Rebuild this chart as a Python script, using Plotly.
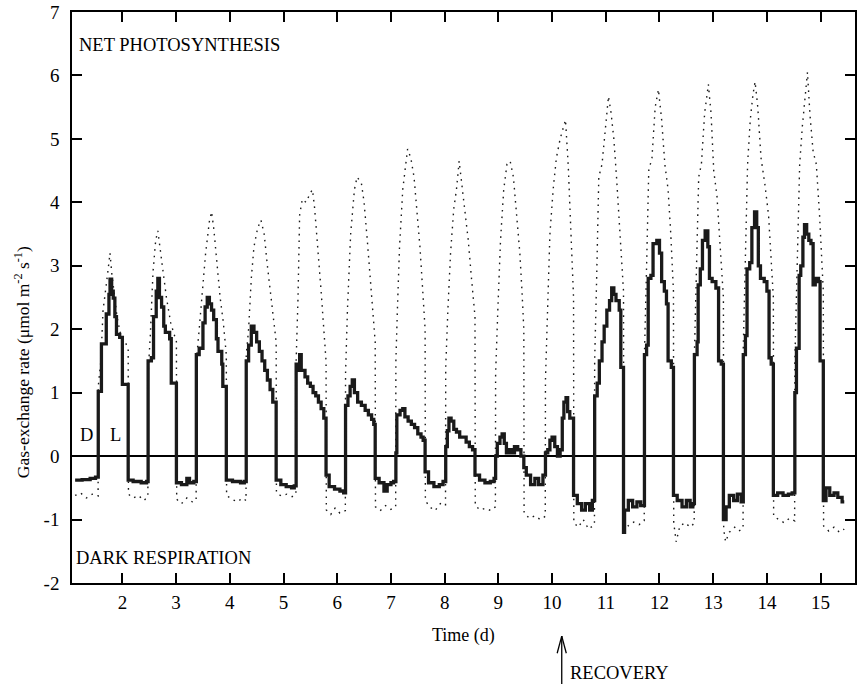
import plotly.graph_objects as go

# ---------------- data ----------------
# thick line: hourly-stepped gas-exchange rate (value holds until next time)
thick_time = [
    1.12, 1.25, 1.40, 1.50,
    1.551, 1.61, 1.70, 1.75, 1.77, 1.80, 1.83, 1.86, 1.89, 1.95, 2.00,
    2.108, 2.20, 2.35, 2.45,
    2.479, 2.54, 2.58, 2.63, 2.66, 2.69, 2.73, 2.77, 2.80, 2.88, 2.91,
    3.006, 3.10, 3.20, 3.25, 3.33,
    3.377, 3.43, 3.50, 3.54, 3.58, 3.62, 3.66, 3.70, 3.75, 3.78, 3.85, 3.87,
    3.935, 4.05, 4.20, 4.27,
    4.306, 4.35, 4.40, 4.45, 4.50, 4.55, 4.60, 4.65, 4.70, 4.75, 4.80,
    4.863, 4.95, 5.05, 5.15, 5.20,
    5.235, 5.27, 5.30, 5.33, 5.40, 5.45, 5.50, 5.55, 5.60, 5.65, 5.70, 5.75,
    5.792, 5.85, 5.95, 6.05, 6.12,
    6.155, 6.20, 6.24, 6.28, 6.32, 6.38, 6.45, 6.52, 6.58, 6.64, 6.68,
    6.707, 6.78, 6.87, 6.93, 7.00, 7.05,
    7.092, 7.11, 7.17, 7.22, 7.26, 7.32, 7.38, 7.44, 7.50, 7.56, 7.60,
    7.636, 7.70, 7.80, 7.90, 7.97,
    8.02, 8.05, 8.08, 8.12, 8.17, 8.22, 8.28, 8.34, 8.40, 8.46, 8.52,
    8.565, 8.65, 8.75, 8.85, 8.92,
    8.949, 8.98, 9.03, 9.07, 9.11, 9.15, 9.20, 9.25, 9.30, 9.36, 9.42,
    9.474, 9.52, 9.60, 9.68, 9.75, 9.83,
    9.877, 9.92, 9.96, 10.00, 10.05, 10.10, 10.15, 10.19, 10.22, 10.26, 10.29, 10.33,
    10.40, 10.47, 10.55, 10.62, 10.70, 10.75,
    10.793, 10.84, 10.88, 10.93, 10.97, 11.02, 11.07, 11.11, 11.15, 11.19, 11.25, 11.28,
    11.33, 11.35, 11.42, 11.50, 11.58, 11.65,
    11.72, 11.76, 11.79, 11.84, 11.88, 11.95, 12.00, 12.04, 12.09, 12.13, 12.16, 12.22,
    12.26, 12.33, 12.42, 12.50, 12.57, 12.62,
    12.65, 12.70, 12.72, 12.76, 12.80, 12.85, 12.90, 12.93, 12.98, 13.05, 13.10, 13.15,
    13.19, 13.24, 13.30, 13.38, 13.45, 13.52,
    13.56, 13.60, 13.63, 13.68, 13.72, 13.77, 13.81, 13.84, 13.88, 13.95, 14.00, 14.04, 14.08,
    14.12, 14.20, 14.30, 14.40, 14.47,
    14.52, 14.55, 14.60, 14.63, 14.67, 14.70, 14.74, 14.78, 14.82, 14.86, 14.90, 14.96, 14.99,
    15.05, 15.10, 15.17, 15.25, 15.32, 15.40, 15.44,
]
thick_rate = [
    -0.38, -0.37, -0.35, -0.33,
    1.02, 1.77, 2.24, 2.55, 2.79, 2.60, 2.49, 2.20, 1.92, 1.87, 1.13,
    -0.38, -0.40, -0.42, -0.40,
    1.50, 1.55, 2.20, 2.60, 2.80, 2.50, 2.35, 2.05, 1.95, 1.85, 1.15,
    -0.42, -0.45, -0.35, -0.42, -0.40,
    1.60, 1.70, 2.10, 2.35, 2.50, 2.40, 2.30, 2.15, 1.85, 1.65, 1.45, 1.10,
    -0.38, -0.40, -0.42, -0.40,
    1.50, 1.75, 2.05, 1.95, 1.80, 1.65, 1.50, 1.35, 1.20, 1.05, 0.85,
    -0.38, -0.45, -0.48, -0.50, -0.47,
    1.45, 1.35, 1.60, 1.35, 1.25, 1.15, 1.10, 1.00, 0.95, 0.85, 0.75, 0.60,
    -0.30, -0.48, -0.52, -0.55, -0.58,
    0.80, 0.95, 1.10, 1.20, 1.00, 0.85, 0.80, 0.72, 0.65, 0.58, 0.50,
    -0.35, -0.42, -0.55, -0.45, -0.42, -0.40,
    0.05, 0.65, 0.72, 0.75, 0.62, 0.55, 0.50, 0.45, 0.35, 0.30, 0.25,
    -0.25, -0.42, -0.48, -0.45, -0.40,
    0.15, 0.40, 0.60, 0.55, 0.42, 0.38, 0.30, 0.30, 0.22, 0.15, 0.10,
    -0.30, -0.38, -0.42, -0.40, -0.35,
    0.00, 0.20, 0.30, 0.35, 0.20, 0.05, 0.10, 0.05, 0.15, 0.10, 0.00,
    -0.18, -0.30, -0.45, -0.35, -0.45, -0.30,
    0.05, 0.10, 0.25, 0.30, 0.15, 0.00, 0.10, 0.60, 0.85, 0.92, 0.70, 0.60,
    -0.62, -0.75, -0.85, -0.75, -0.85, -0.70,
    0.95, 1.15, 1.50, 1.80, 2.05, 2.30, 2.45, 2.65, 2.55, 2.45, 2.30, 1.40,
    -1.20, -0.85, -0.70, -0.80, -0.72, -0.78,
    1.60, 1.75, 2.80, 2.85, 3.35, 3.40, 3.20, 2.75, 2.60, 2.40, 1.50, 1.40,
    -0.62, -0.70, -0.80, -0.70, -0.80, -0.75,
    1.60, 1.80, 2.70, 2.95, 3.40, 3.55, 3.30, 2.80, 2.75, 2.65, 1.50, 1.45,
    -1.00, -0.80, -0.62, -0.70, -0.60, -0.72,
    1.60, 1.90, 2.95, 3.05, 3.60, 3.85, 3.60, 3.00, 2.80, 2.75, 2.60, 1.55, 1.45,
    -0.62, -0.58, -0.62, -0.60, -0.58,
    1.00, 1.70, 2.85, 3.00, 3.45, 3.65, 3.50, 3.40, 3.35, 2.70, 2.80, 2.75, 1.50,
    -0.70, -0.50, -0.62, -0.58, -0.65, -0.72, -0.72,
]

# dotted line: the second gas-exchange record
dotted_time = [
    1.12, 1.22, 1.33, 1.44, 1.548,
    1.551, 1.60, 1.64, 1.70, 1.75, 1.77, 1.80, 1.85, 1.90, 1.97, 2.05, 2.108,
    2.113, 2.20, 2.30, 2.40, 2.475,
    2.479, 2.52, 2.57, 2.62, 2.66, 2.70, 2.76, 2.82, 2.90, 2.97, 3.006,
    3.011, 3.10, 3.20, 3.30, 3.373,
    3.377, 3.42, 3.47, 3.55, 3.62, 3.66, 3.70, 3.75, 3.82, 3.88, 3.935,
    3.940, 4.04, 4.14, 4.24, 4.302,
    4.306, 4.35, 4.40, 4.45, 4.52, 4.58, 4.64, 4.70, 4.77, 4.82, 4.863,
    4.868, 4.96, 5.06, 5.16, 5.231,
    5.235, 5.27, 5.30, 5.35, 5.42, 5.50, 5.54, 5.58, 5.63, 5.70, 5.75, 5.792,
    5.797, 5.88, 5.96, 6.05, 6.151,
    6.155, 6.19, 6.25, 6.32, 6.37, 6.45, 6.50, 6.56, 6.62, 6.67, 6.707,
    6.712, 6.80, 6.90, 7.00, 7.088,
    7.092, 7.12, 7.16, 7.22, 7.27, 7.31, 7.37, 7.43, 7.48, 7.54, 7.60, 7.636,
    7.641, 7.72, 7.82, 7.92, 8.016,
    8.02, 8.06, 8.11, 8.17, 8.22, 8.27, 8.32, 8.38, 8.44, 8.50, 8.565,
    8.570, 8.66, 8.76, 8.86, 8.945,
    8.949, 8.99, 9.04, 9.10, 9.16, 9.22, 9.28, 9.34, 9.40, 9.44, 9.474,
    9.479, 9.58, 9.68, 9.78, 9.873,
    9.877, 9.92, 9.96, 10.02, 10.08, 10.15, 10.22, 10.25, 10.30, 10.35, 10.40,
    10.405, 10.49, 10.58, 10.68, 10.789,
    10.793, 10.83, 10.87, 10.93, 10.99, 11.05, 11.10, 11.15, 11.20, 11.26, 11.33,
    11.335, 11.42, 11.52, 11.62, 11.716,
    11.72, 11.76, 11.80, 11.86, 11.92, 11.98, 12.04, 12.10, 12.16, 12.21, 12.26,
    12.265, 12.31, 12.38, 12.48, 12.57, 12.646,
    12.65, 12.69, 12.73, 12.78, 12.84, 12.91, 12.96, 13.01, 13.07, 13.13, 13.19,
    13.195, 13.23, 13.30, 13.40, 13.48, 13.556,
    13.56, 13.60, 13.64, 13.69, 13.74, 13.78, 13.83, 13.89, 13.96, 14.03, 14.08, 14.12,
    14.125, 14.22, 14.32, 14.42, 14.516,
    14.52, 14.56, 14.61, 14.66, 14.71, 14.755, 14.80, 14.86, 14.92, 14.98, 15.05,
    15.055, 15.15, 15.25, 15.35, 15.44,
]
dotted_rate = [
    -0.62, -0.58, -0.66, -0.60, -0.63,
    1.10, 1.50, 2.30, 2.70, 3.10, 3.20, 2.90, 2.50, 2.20, 1.90, 1.80, 1.70,
    -0.60, -0.66, -0.62, -0.70, -0.64,
    1.30, 1.90, 2.90, 3.40, 3.55, 3.30, 2.90, 2.50, 2.10, 1.90, 1.80,
    -0.68, -0.75, -0.66, -0.72, -0.70,
    1.50, 1.90, 2.40, 3.20, 3.70, 3.85, 3.60, 3.10, 2.50, 2.10, 1.60,
    -0.62, -0.68, -0.72, -0.66, -0.70,
    1.60, 2.00, 2.80, 3.30, 3.60, 3.72, 3.50, 3.00, 2.50, 2.10, 1.80,
    -0.58, -0.63, -0.60, -0.64, -0.60,
    1.50, 2.50, 3.80, 4.05, 4.00, 4.15, 4.20, 3.90, 3.40, 2.60, 2.00, 1.50,
    -0.85, -0.92, -0.82, -0.90, -0.86,
    1.30, 2.30, 3.50, 4.20, 4.40, 4.30, 4.00, 3.40, 2.70, 2.20, 1.80,
    -0.80, -0.86, -0.78, -0.84, -0.80,
    1.50, 2.30, 3.30, 4.20, 4.60, 4.84, 4.70, 4.40, 3.90, 3.30, 2.50, 2.00,
    -0.70, -0.80, -0.86, -0.75, -0.78,
    1.40, 2.30, 3.20, 3.90, 4.20, 4.65, 4.30, 3.90, 3.40, 2.80, 2.20,
    -0.78, -0.85, -0.82, -0.86, -0.80,
    1.30, 2.30, 3.40, 4.20, 4.60, 4.65, 4.40, 3.80, 3.20, 2.60, 2.00,
    -0.90, -0.98, -0.94, -1.00, -0.95,
    1.20, 2.40, 3.50, 4.20, 4.70, 5.00, 5.20, 5.30, 4.60, 3.50, 2.50,
    -1.05, -1.12, -1.00, -1.15, -1.08,
    1.50, 2.80, 4.40, 4.60, 5.10, 5.67, 5.40, 5.00, 4.40, 3.60, 2.60,
    -1.00, -1.10, -1.04, -1.08, -1.02,
    1.60, 3.00, 4.50, 4.70, 5.50, 5.78, 5.30, 4.60, 4.20, 3.50, 2.60,
    -1.05, -1.35, -1.10, -1.05, -1.12, -1.06,
    1.60, 3.00, 4.40, 4.60, 5.40, 5.86, 5.40, 4.50, 4.10, 3.30, 2.50,
    -1.15, -1.35, -1.20, -1.12, -1.18, -1.14,
    1.70, 3.20, 4.60, 5.30, 5.70, 5.90, 5.50, 4.70, 4.30, 3.80, 3.00, 2.50,
    -0.95, -1.00, -1.05, -0.98, -1.02,
    1.50, 3.00, 4.60, 5.20, 5.70, 6.05, 5.40, 4.80, 4.60, 3.80, 2.60,
    -1.10, -1.18, -1.12, -1.20, -1.15,
]

x_tick_vals = [2, 3, 4, 5, 6, 7, 8, 9, 10, 11, 12, 13, 14, 15]
y_tick_vals = [-2, -1, 0, 1, 2, 3, 4, 5, 6, 7]
y_tick_text = ["-2", "-1", "0", "1", "2", "3", "4", "5", "6", "7"]
recovery_day = 10.18
label_dark_day, label_light_day, label_dl_rate = 1.33, 1.88, 0.34

# ---------------- figure ----------------
FONT = "Liberation Serif, Times New Roman, serif"
INK = "#1a1a1a"

fig = go.Figure()
fig.add_trace(go.Scatter(
    x=dotted_time, y=dotted_rate, mode="lines",
    line=dict(color="#1a1a1a", width=1.4, dash="1.6px,5px"),
    hoverinfo="skip", showlegend=False))
fig.add_trace(go.Scatter(
    x=thick_time, y=thick_rate, mode="lines",
    line=dict(color=INK, width=3.3, shape="hv"),
    hoverinfo="skip", showlegend=False))

axis_common = dict(
    showline=True, linecolor="black", linewidth=1.5, mirror="allticks",
    ticks="inside", ticklen=10, tickwidth=1.5, tickcolor="black",
    showgrid=False, tickfont=dict(family=FONT, size=19, color="black"),
)
fig.update_xaxes(range=[1.062, 15.64], tickvals=x_tick_vals,
                 zeroline=False, ticklabelstandoff=1, **axis_common)
fig.update_yaxes(range=[-2, 7], tickvals=y_tick_vals, ticktext=y_tick_text,
                 zeroline=True, zerolinecolor="black", zerolinewidth=1.5,
                 ticklabelstandoff=7, **axis_common)

ann_font = dict(family=FONT, size=18.5, color="black")
annotations = [
    dict(text="NET PHOTOSYNTHESIS", xref="paper", yref="paper", x=0.0064, y=0.942,
         xanchor="left", yanchor="middle", showarrow=False, font=ann_font),
    dict(text="DARK RESPIRATION", xref="paper", yref="paper", x=0.0025, y=0.0438,
         xanchor="left", yanchor="middle", showarrow=False, font=ann_font),
    dict(text="D", xref="x", yref="y", x=label_dark_day, y=label_dl_rate,
         showarrow=False, font=ann_font),
    dict(text="L", xref="x", yref="y", x=label_light_day, y=label_dl_rate,
         showarrow=False, font=ann_font),
    dict(text="Time (d)", xref="paper", yref="paper", x=0.5, y=-0.0928,
         xanchor="center", yanchor="middle", showarrow=False,
         font=dict(family=FONT, size=18, color="black")),
    dict(text="Gas-exchange rate (μmol m<sup>-2</sup> s<sup>-1</sup>)",
         xref="paper", yref="paper", x=-0.0637, y=0.387, textangle=-90,
         xanchor="center", yanchor="middle", showarrow=False,
         font=dict(family=FONT, size=17.5, color="black")),
    dict(text="RECOVERY", xref="x", yref="paper", x=recovery_day + 0.11, y=-0.158,
         xanchor="left", yanchor="middle", showarrow=False, font=ann_font),
]
fig.update_layout(annotations=annotations)

# recovery arrow (open head)
tip_y, tail_y, wing_dy, wing_dx = -0.093, -0.19, 0.030, 0.085
arrow_line = dict(color="black", width=1.3)
fig.add_shape(type="line", xref="x", yref="paper", x0=recovery_day, x1=recovery_day,
              y0=tip_y, y1=tail_y, line=arrow_line)
fig.add_shape(type="line", xref="x", yref="paper", x0=recovery_day, x1=recovery_day - wing_dx,
              y0=tip_y, y1=tip_y - wing_dy, line=arrow_line)
fig.add_shape(type="line", xref="x", yref="paper", x0=recovery_day, x1=recovery_day + wing_dx,
              y0=tip_y, y1=tip_y - wing_dy, line=arrow_line)

fig.update_layout(
    width=857, height=684,
    margin=dict(l=72, r=0, t=12, b=101),
    paper_bgcolor="white", plot_bgcolor="white",
    showlegend=False,
)

fig.write_html("out.html", config={"displayModeBar": False},
               post_script="document.body.style.margin='0';document.body.style.overflow='hidden';")
